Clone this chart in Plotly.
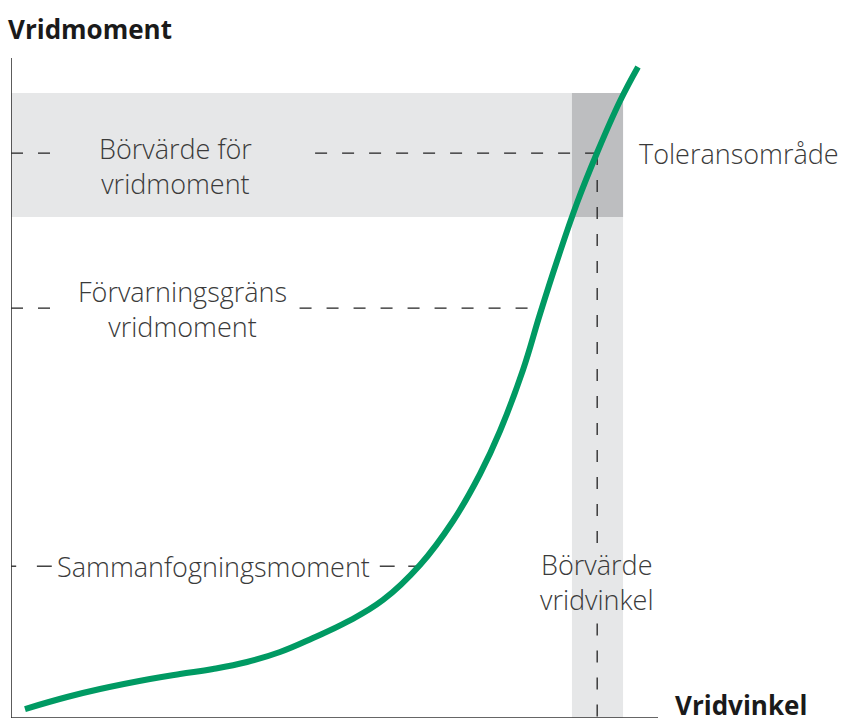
import plotly.graph_objects as go

# ---- data (arbitrary units: angle 0..100, torque 0..100) ----
angle = [2.16, 8.66, 13.76, 21.48, 26.12, 31.22, 36.48, 41.58, 46.68, 51.93, 57.50,
         63.21, 68.32, 72.49, 75.58, 79.13, 81.76, 84.39, 87.48, 90.57, 94.13, 96.91]
torque = [1.36, 3.18, 4.39, 5.91, 6.67, 7.42, 8.48, 10.00, 12.12, 14.55, 17.88,
          23.18, 29.85, 36.97, 43.48, 52.73, 61.21, 69.24, 78.03, 85.61, 93.48, 98.64]

target_torque = 85.6
tol_torque = [75.9, 94.7]
prewarn_torque = 62.1
snug_torque = 23.0
target_angle = 90.6
tol_angle = [86.7, 94.6]

labels = {
    "target_torque": "Börvärde för<br>vridmoment",
    "prewarn": "Förvarningsgräns<br>vridmoment",
    "snug": "Sammanfogningsmoment",
    "tol": "Toleransområde",
    "target_angle": "Börvärde<br>vridvinkel",
    "y_title": "Vridmoment",
    "x_title": "Vridvinkel",
}

W, H = 846, 720
L, R, T, B = 11, 0, 58, 2
XMAX = (W - L - R) / 6.47  # axis line ends at x=100

GREEN = "#009A63"
BAND = "#E6E7E8"
DARK = "#BDBEC0"
AX = "#333333"
TXT = "#3A3A3A"
FONT = "Open Sans"
DASH = "12px,15px"

fig = go.Figure()
fig.add_trace(go.Scatter(x=angle, y=torque, mode="lines",
                         line=dict(color=GREEN, width=6, shape="spline", smoothing=1.2),
                         hoverinfo="skip", showlegend=False))

shapes = []
shapes.append(dict(type="rect", x0=0, x1=tol_angle[1], y0=tol_torque[0], y1=tol_torque[1],
                   fillcolor=BAND, line=dict(width=0), layer="below"))
shapes.append(dict(type="rect", x0=tol_angle[0], x1=tol_angle[1], y0=0, y1=tol_torque[0],
                   fillcolor=BAND, line=dict(width=0), layer="below"))
shapes.append(dict(type="rect", x0=tol_angle[0], x1=tol_angle[1], y0=tol_torque[0], y1=tol_torque[1],
                   fillcolor=DARK, line=dict(width=0), layer="below"))

def hdash(x0, x1, y, dash=DASH):
    shapes.append(dict(type="line", x0=x0, x1=x1, y0=y, y1=y,
                       line=dict(color="#222222", width=1.3, dash=dash), layer="below"))

def vdash(y0, y1, x):
    shapes.append(dict(type="line", x0=x, x1=x, y0=y0, y1=y1,
                       line=dict(color="#222222", width=1.3, dash=DASH), layer="below"))

hdash(0, 6.6, target_torque)
hdash(47.0, target_angle, target_torque)
hdash(0, 6.9, prewarn_torque)
hdash(44.6, 82.0, prewarn_torque)
for a0, a1 in [(0, 0.8), (4.0, 6.3), (57.0, 59.3), (61.4, 63.0)]:
    hdash(a0, a1, snug_torque, dash="solid")
vdash(target_torque, 26.0, target_angle)
vdash(14.3, 0, target_angle)

shapes.append(dict(type="line", x0=0, x1=0, y0=0, y1=100, line=dict(color=AX, width=1.6)))
shapes.append(dict(type="line", x0=-0.2, x1=100, y0=0, y1=0, line=dict(color=AX, width=1.6)))

def pxp(px):
    return (px - L) / (W - L - R)

def pyp(py):
    return (H - B - py) / (H - T - B)

ann = []
light = dict(family=FONT, size=27, color=TXT, weight=300)
ann.append(dict(x=pxp(175), y=pyp(166), text=labels["target_torque"], font=light,
                xanchor="center", yanchor="middle"))
ann.append(dict(x=pxp(182), y=pyp(309), text=labels["prewarn"], font=light,
                xanchor="center", yanchor="middle"))
ann.append(dict(x=pxp(55), y=pyp(566), text=labels["snug"], font=light,
                xanchor="left", yanchor="middle"))
ann.append(dict(x=pxp(637), y=pyp(153), text=labels["tol"], font=light,
                xanchor="left", yanchor="middle"))
ann.append(dict(x=pxp(597), y=pyp(582), text=labels["target_angle"], font=light,
                xanchor="center", yanchor="middle"))
bold = dict(family=FONT, size=26, color="#1A1A1A", weight=700)
ann.append(dict(x=pxp(6), y=pyp(29), text=labels["y_title"], font=bold,
                xanchor="left", yanchor="middle"))
ann.append(dict(x=pxp(673), y=pyp(705), text=labels["x_title"], font=bold,
                xanchor="left", yanchor="middle"))
for a in ann:
    a["xref"] = "paper"
    a["yref"] = "paper"
    a["showarrow"] = False

fig.update_layout(
    width=W, height=H,
    margin=dict(l=L, r=R, t=T, b=B),
    paper_bgcolor="white", plot_bgcolor="white",
    xaxis=dict(range=[0, XMAX], visible=False, fixedrange=True),
    yaxis=dict(range=[0, 100], visible=False, fixedrange=True),
    shapes=shapes, annotations=ann, showlegend=False,
)

fig.write_html("out.html", config={"displayModeBar": False},
               post_script="document.body.style.margin='0';document.body.style.overflow='hidden';")
